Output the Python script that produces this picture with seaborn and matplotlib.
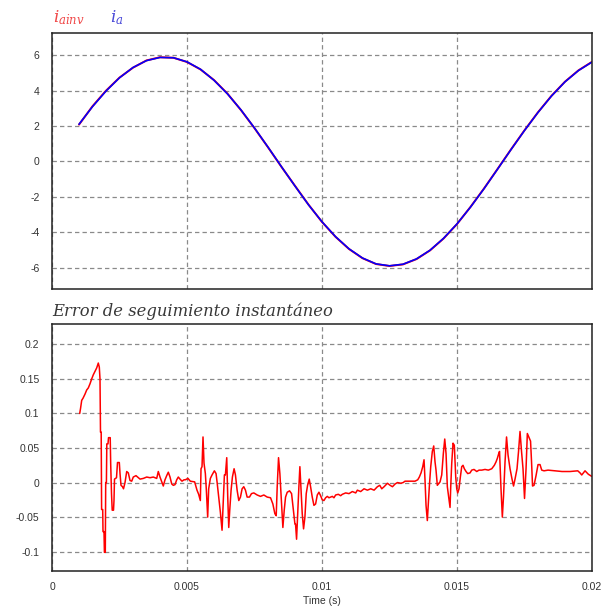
import matplotlib
matplotlib.use("Agg")
import matplotlib.pyplot as plt
import seaborn as sns
import pandas as pd

# ---------------- data ----------------
sine_time = [0.001, 0.0015, 0.002, 0.0025, 0.003, 0.0035, 0.004, 0.0045, 0.005, 0.0055,
             0.006, 0.0065, 0.007, 0.0075, 0.008, 0.0085, 0.009, 0.0095, 0.010, 0.0105,
             0.011, 0.0115, 0.012, 0.0125, 0.013, 0.0135, 0.014, 0.0145, 0.015, 0.0155,
             0.016, 0.0165, 0.017, 0.0175, 0.018, 0.0185, 0.019, 0.0195, 0.020]
i_a = [2.10, 3.10, 3.98, 4.73, 5.31, 5.70, 5.88, 5.86, 5.63, 5.21,
       4.59, 3.82, 2.91, 1.89, 0.81, -0.30, -1.39, -2.45, -3.41, -4.25,
       -4.94, -5.46, -5.79, -5.90, -5.81, -5.51, -5.02, -4.35, -3.53, -2.58,
       -1.54, -0.44, 0.67, 1.75, 2.77, 3.70, 4.50, 5.14, 5.62]
i_ainv = [2.08, 3.12, 4.00, 4.74, 5.30, 5.71, 5.89, 5.86, 5.62, 5.20,
          4.60, 3.83, 2.90, 1.88, 0.80, -0.31, -1.38, -2.44, -3.42, -4.26,
          -4.95, -5.47, -5.80, -5.91, -5.82, -5.52, -5.03, -4.36, -3.54, -2.57,
          -1.53, -0.43, 0.68, 1.76, 2.78, 3.71, 4.51, 5.15, 5.63]

err_time = [
    0.001026, 0.001056, 0.001100, 0.001148, 0.001222, 0.001285, 0.001345, 0.001408, 0.001470, 0.001530,
    0.001593, 0.001656, 0.001715, 0.001752, 0.001778, 0.001796, 0.001822, 0.001837, 0.001878, 0.001889,
    0.001926, 0.001941, 0.001974, 0.001989, 0.002015, 0.002030, 0.002074, 0.002093, 0.002156, 0.002174,
    0.002204, 0.002230, 0.002278, 0.002296, 0.002315, 0.002389, 0.002426, 0.002493, 0.002519, 0.002556,
    0.002611, 0.002648, 0.002704, 0.002767, 0.002826, 0.002889, 0.002952, 0.003011, 0.003111, 0.003197,
    0.003260, 0.003382, 0.003508, 0.003630, 0.003752, 0.003878, 0.003937, 0.004000, 0.004085, 0.004122,
    0.004185, 0.004248, 0.004308, 0.004371, 0.004434, 0.004493, 0.004556, 0.004619, 0.004678, 0.004741,
    0.004815, 0.004889,
    0.004937, 0.005036, 0.005122, 0.005283, 0.005370, 0.005432, 0.005494, 0.005519, 0.005556, 0.005593,
    0.005630, 0.005680, 0.005717, 0.005766, 0.005803, 0.005865, 0.005927, 0.006014, 0.006076, 0.006113,
    0.006175, 0.006236, 0.006298, 0.006336, 0.006385, 0.006422, 0.006472, 0.006509, 0.006546, 0.006583,
    0.006633, 0.006682, 0.006744, 0.006794, 0.006856, 0.006918, 0.006980, 0.007041, 0.007103, 0.007165,
    0.007227, 0.007314, 0.007388, 0.007475, 0.007599, 0.007722, 0.007846, 0.007970, 0.008094, 0.008180,
    0.008254, 0.008304, 0.008341, 0.008390, 0.008440, 0.008489, 0.008551, 0.008601, 0.008650, 0.008712,
    0.008799, 0.008873, 0.008935, 0.008997,
    0.009020, 0.009058, 0.009095, 0.009144, 0.009181, 0.009218, 0.009268, 0.009317, 0.009367, 0.009416,
    0.009466, 0.009527, 0.009577, 0.009639, 0.009701, 0.009763, 0.009825, 0.009887, 0.009948, 0.010010,
    0.010072, 0.010134, 0.010196, 0.010258, 0.010382, 0.010443, 0.010505, 0.010604, 0.010691, 0.010753,
    0.010876, 0.011000, 0.011124, 0.011248, 0.011310, 0.011433, 0.011557, 0.011681, 0.011805, 0.011929,
    0.012052, 0.012139, 0.012213, 0.012300, 0.012424, 0.012523, 0.012610, 0.012709, 0.012795, 0.012919,
    0.013006,
    0.013075, 0.013446, 0.013545, 0.013605, 0.013668, 0.013731, 0.013779, 0.013816, 0.013853, 0.013901,
    0.013938, 0.013975, 0.014027, 0.014086, 0.014138, 0.014186, 0.014223, 0.014271, 0.014372, 0.014434,
    0.014494, 0.014546, 0.014594, 0.014642, 0.014694, 0.014742, 0.014768, 0.014805, 0.014853, 0.014901,
    0.014953, 0.014990, 0.015027, 0.015075, 0.015124, 0.015175, 0.015223, 0.015272, 0.015335, 0.015397,
    0.015483, 0.015545, 0.015631, 0.015731, 0.015816, 0.015916, 0.016038, 0.016161, 0.016287, 0.016383,
    0.016446, 0.016494, 0.016546, 0.016575, 0.016631, 0.016679, 0.016723, 0.016779, 0.016835, 0.016890,
    0.016964, 0.017038, 0.017094, 0.017149, 0.017223, 0.017279, 0.017334, 0.017390, 0.017445, 0.017501,
    0.017557, 0.017605, 0.017668, 0.017724, 0.017761, 0.017798, 0.017853, 0.017927, 0.018001, 0.018075,
    0.018138, 0.018223, 0.018371, 0.018631, 0.018890, 0.019187, 0.019472, 0.019557, 0.019620, 0.019742,
    0.019865, 0.019990]
err_value = [
    0.100, 0.107, 0.119, 0.122, 0.128, 0.134, 0.137, 0.143, 0.150, 0.156,
    0.161, 0.166, 0.173, 0.167, 0.150, 0.073, 0.073, -0.039, -0.039, -0.071,
    -0.071, -0.101, -0.101, 0.000, 0.000, 0.056, 0.056, 0.065, 0.065, 0.027,
    -0.016, -0.040, -0.040, -0.026, 0.005, 0.007, 0.029, 0.029, 0.013, -0.004,
    -0.006, -0.009, 0.000, 0.016, 0.014, 0.003, 0.002, 0.008, 0.010, 0.007,
    0.005, 0.006, 0.008, 0.007, 0.008, 0.006, 0.016, 0.008, -0.001, -0.005,
    0.004, 0.010, 0.015, 0.008, -0.002, -0.004, -0.003, 0.004, 0.008, 0.005,
    0.002, 0.004,
    0.004, 0.006, 0.002, 0.001, -0.011, -0.017, -0.026, 0.020, 0.023, 0.066,
    0.028, 0.013, -0.011, -0.050, -0.009, 0.006, 0.011, 0.017, 0.013, 0.001,
    -0.021, -0.043, -0.069, -0.035, 0.011, 0.011, 0.036, -0.021, -0.065, -0.040,
    -0.011, 0.008, 0.020, 0.011, -0.011, -0.026, -0.021, -0.009, -0.006, -0.011,
    -0.021, -0.021, -0.016, -0.015, -0.018, -0.020, -0.018, -0.021, -0.022, -0.031,
    -0.045, -0.048, -0.006, 0.036, 0.013, -0.021, -0.065, -0.040, -0.021, -0.014,
    -0.012, -0.016, -0.038, -0.060,
    -0.060, -0.082, -0.048, -0.006, 0.023, -0.006, -0.045, -0.067, -0.050, -0.016,
    -0.004, 0.005, -0.006, -0.021, -0.033, -0.031, -0.018, -0.014, -0.019, -0.025,
    -0.026, -0.022, -0.020, -0.022, -0.020, -0.022, -0.018, -0.017, -0.019, -0.017,
    -0.015, -0.016, -0.013, -0.015, -0.011, -0.013, -0.009, -0.011, -0.009, -0.011,
    -0.006, -0.004, -0.009, -0.006, -0.001, -0.004, -0.006, -0.002, 0.000, -0.001,
    0.000,
    0.002, 0.002, 0.004, 0.008, 0.014, 0.023, 0.033, 0.003, -0.033, -0.055,
    -0.031, -0.006, 0.023, 0.045, 0.053, 0.030, 0.018, -0.004, 0.001, 0.011,
    0.042, 0.063, 0.042, -0.006, -0.021, -0.036, -0.006, 0.028, 0.057, 0.054,
    0.008, -0.009, -0.015, -0.009, 0.008, 0.023, 0.025, 0.020, 0.016, 0.013,
    0.014, 0.018, 0.019, 0.016, 0.018, 0.018, 0.019, 0.018, 0.020, 0.025,
    0.030, 0.035, 0.042, 0.045, -0.010, -0.050, -0.020, 0.030, 0.066, 0.040,
    0.020, 0.005, -0.005, 0.005, 0.020, 0.045, 0.074, 0.045, 0.020, -0.023,
    0.020, 0.071, 0.065, 0.060, 0.030, -0.005, -0.004, 0.010, 0.026, 0.026,
    0.018, 0.017, 0.018, 0.017, 0.016, 0.016, 0.017, 0.014, 0.011, 0.017,
    0.012, 0.009]

x_ticks = [0, 0.005, 0.01, 0.015, 0.02]
x_tick_labels = ["0", "0.005", "0.01", "0.015", "0.02"]
top_y_ticks = [-6, -4, -2, 0, 2, 4, 6]
bot_y_ticks = [-0.1, -0.05, 0, 0.05, 0.1, 0.15, 0.2]
bot_y_tick_labels = ["-0.1", "-0.05", "0", "0.05", "0.1", "0.15", "0.2"]

# ---------------- style ----------------
sns.set_style("white")
plt.rcParams['font.family'] = ['Liberation Sans', 'DejaVu Sans']
plt.rcParams['mathtext.fontset'] = 'dejavuserif'

fig = plt.figure(figsize=(6.03, 6.07), dpi=100)
W, H = 603, 607
ax1 = fig.add_axes([52 / W, 1 - 289 / H, 540 / W, 256 / H])
ax2 = fig.add_axes([52 / W, 1 - 571 / H, 540 / W, 247 / H])

df_top = pd.DataFrame({"t": sine_time, "ia": i_a, "iainv": i_ainv})
df_err = pd.DataFrame({"t": err_time, "e": err_value})

sns.lineplot(data=df_top, x="t", y="iainv", ax=ax1, color="#ff0000", lw=1.4,
             estimator=None, sort=False)
sns.lineplot(data=df_top, x="t", y="ia", ax=ax1, color="#0000ff", lw=1.2,
             estimator=None, sort=False)
sns.lineplot(data=df_err, x="t", y="e", ax=ax2, color="#ff0000", lw=1.1,
             estimator=None, sort=False)

tick_color = "#333333"
for ax in (ax1, ax2):
    ax.set_xlim(0, 0.02)
    ax.set_xticks(x_ticks)
    ax.grid(True, color="#8a8a8a", linestyle=(0, (3.5, 2.5)), linewidth=0.9)
    ax.tick_params(length=0, labelsize=7.5, colors=tick_color, pad=9)
    ax.set_xlabel("")
    ax.set_ylabel("")
    for s in ax.spines.values():
        s.set_color("#222222")
        s.set_linewidth(1.1)

ax1.set_ylim(-7.21, 7.26)
ax1.set_yticks(top_y_ticks)
ax1.set_yticklabels([str(v) for v in top_y_ticks])
ax1.set_xticklabels([])

ax2.set_ylim(-0.128, 0.2295)
ax2.set_yticks(bot_y_ticks)
ax2.set_yticklabels(bot_y_tick_labels)
ax2.set_xticklabels(x_tick_labels)
ax2.tick_params(axis="x", pad=8)
ax2.set_xlabel("Time (s)", fontsize=7.5, color=tick_color, labelpad=3)

fig.text(53 / W, 1 - 18 / H, r"$i_{ainv}$", color="#f04848", fontsize=12, va="center", ha="left")
fig.text(110 / W, 1 - 18 / H, r"$i_{a}$", color="#4a4ad8", fontsize=12, va="center", ha="left")
fig.text(52 / W, 1 - 311 / H, "Error de seguimiento instantáneo", family="DejaVu Serif",
         style="italic", fontsize=11.8, color="#383838", va="center", ha="left")

fig.savefig("out.png", dpi=100)
